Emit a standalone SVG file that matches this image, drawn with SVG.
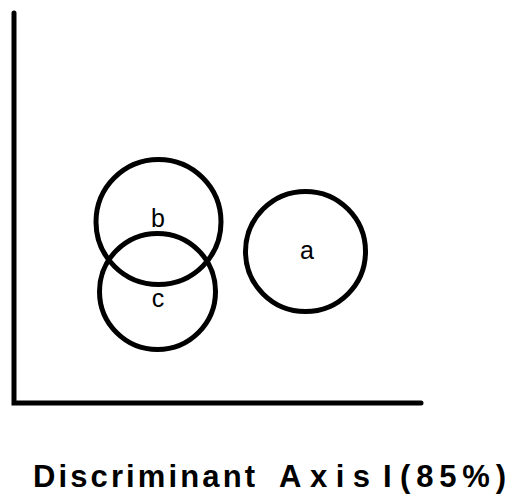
<svg xmlns="http://www.w3.org/2000/svg" width="512" height="497" viewBox="0 0 512 497">
<style>
.ax{stroke:#000;stroke-width:5;stroke-linecap:round;fill:none}
.c{stroke:#000;stroke-width:5;fill:none}
.l{font-family:"Liberation Sans",Arial,sans-serif;font-size:25px;fill:#000;text-anchor:middle}
.t{font-family:"Liberation Sans",Arial,sans-serif;font-size:31px;fill:#000;font-weight:bold}
</style>
<rect width="512" height="497" fill="#fff"/>
<g id="connectors">
<path class="ax" d="M14,13 L14,403 L421,403"/>
</g>
<g id="node-b"><circle class="c" cx="158.5" cy="222" r="62.5"/><text class="l" x="158" y="227">b</text></g>
<g id="node-c"><circle class="c" cx="157.5" cy="291.5" r="58"/><text class="l" x="158" y="307">c</text></g>
<g id="node-a"><circle class="c" cx="305.5" cy="251.5" r="60"/><text class="l" x="307" y="259">a</text></g>
<g id="axis-label">
<text class="t" x="33" y="487" textLength="222" lengthAdjust="spacing">Discriminant</text>
<text class="t" x="279" y="487" textLength="91" lengthAdjust="spacing">Axis</text>
<text class="t" x="383" y="487">I</text>
<text class="t" x="400" y="487" textLength="106" lengthAdjust="spacing">(85%)</text>
</g>
</svg>
